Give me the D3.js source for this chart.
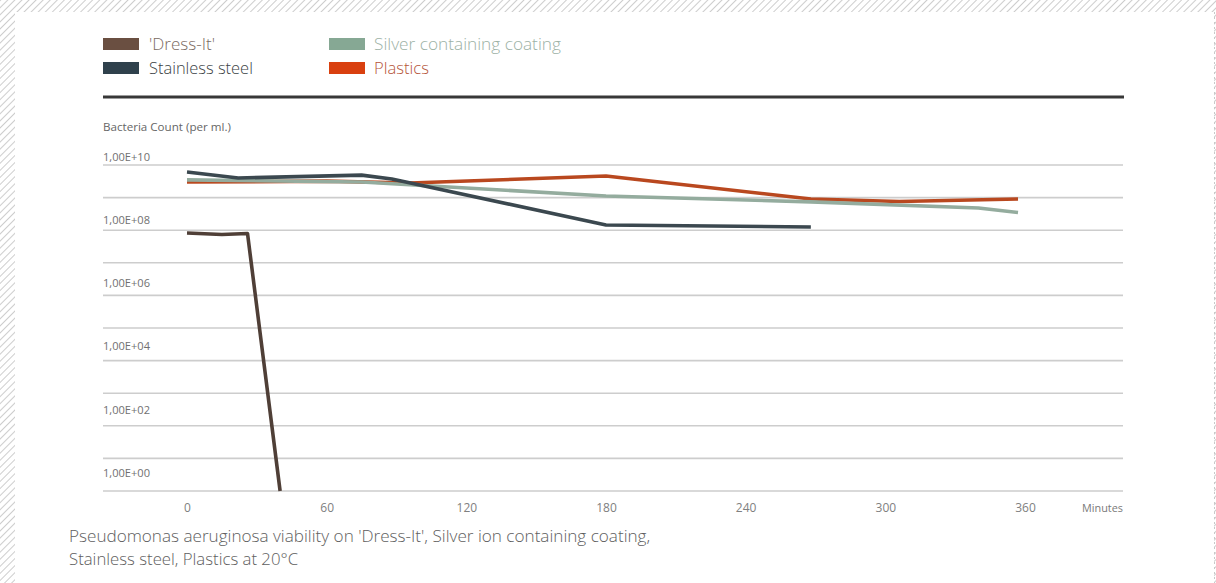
<!DOCTYPE html>
<html>
<head>
<meta charset="utf-8">
<script src="https://cdn.jsdelivr.net/npm/d3@7"></script>
<style>
  html, body { margin: 0; padding: 0; background: #fff; }
  svg { display: block; }
  text { font-family: "Open Sans", Roboto, sans-serif; font-weight: 300; }
  text.narrow { font-family: "Liberation Sans Narrow", "Open Sans", sans-serif; font-weight: 400; }
</style>
</head>
<body>
<svg id="chart" width="1216" height="583"></svg>
<script>
// ---- data (minutes, bacteria count per ml) ----
const seriesNames = ["'Dress-It'", "Stainless steel", "Silver containing coating", "Plastics"];

const dressItTimes  = [0, 15, 26, 40];
const dressItValues = [8.2e7, 7.4e7, 7.9e7, 1];

const steelTimes  = [0, 22, 75, 88, 180, 268];
const steelValues = [6.1e9, 4.0e9, 4.9e9, 3.7e9, 1.45e8, 1.26e8];

const silverTimes  = [0, 75, 180, 268, 340, 357];
const silverValues = [3.5e9, 3.0e9, 1.12e9, 7.4e8, 4.8e8, 3.5e8];

const plasticsTimes  = [0, 60, 96, 180, 268, 306, 357];
const plasticsValues = [3.0e9, 3.2e9, 2.8e9, 4.6e9, 9.1e8, 7.6e8, 9.1e8];

const xTickValues = [0, 60, 120, 180, 240, 300, 360];
const yTickValues = [1e10, 1e9, 1e8, 1e7, 1e6, 1e5, 1e4, 1e3, 1e2, 1e1, 1e0];
const yLabelValues = [1e10, 1e8, 1e6, 1e4, 1e2, 1e0];
const yLabelTexts  = ["1,00E+10", "1,00E+08", "1,00E+06", "1,00E+04", "1,00E+02", "1,00E+00"];

const lineColors   = ["#4f3f37", "#3b484f", "#94ac9e", "#b9481f"];
const swatchColors = ["#6a4f41", "#2f414c", "#86a894", "#d9400f"];
const legendTextColors = ["#7a6a62", "#3a3f44", "#9cb1a5", "#b5553a"];

// ---- helpers ----
function fitWidth(sel, target) {
  sel.each(function () {
    const fs = parseFloat(d3.select(this).attr("font-size"));
    const len = this.getComputedTextLength();
    if (len > 0) d3.select(this).attr("font-size", (fs * target / len).toFixed(2));
  });
}

// ---- drawing ----
const svg = d3.select("#chart");
const W = 1216, H = 583;

// hatched frame
const defs = svg.append("defs");
const pat = defs.append("pattern")
  .attr("id", "hatch").attr("patternUnits", "userSpaceOnUse")
  .attr("width", 5).attr("height", 5)
  .attr("patternTransform", "rotate(45)");
pat.append("rect").attr("width", 5).attr("height", 5).attr("fill", "#fff");
pat.append("line").attr("x1", 0).attr("y1", 0).attr("x2", 0).attr("y2", 5)
  .attr("stroke", "#bdbdbd").attr("stroke-width", 1.5);

svg.append("rect").attr("width", W).attr("height", H).attr("fill", "url(#hatch)");
svg.append("rect").attr("x", 15).attr("y", 12).attr("width", 1199).attr("height", H - 12).attr("fill", "#fff");
svg.append("line").attr("x1", 1214.5).attr("x2", 1214.5).attr("y1", 12).attr("y2", H)
  .attr("stroke", "#c8c8c8").attr("stroke-dasharray", "2,3");

// scales
const x = d3.scaleLinear().domain([0, 360]).range([187, 1025]);
const y = d3.scaleLog().domain([1, 1e10]).range([491, 165]);
const yLabel = d3.scaleLog().domain([1, 1e10]).range([473, 157]);

const gridLeft = 103, gridRight = 1123;

// legend
const legendX = [103, 329];
const legendY = [44, 68];
const legendWidths = [66, 104, 187, 55];
seriesNames.forEach((name, i) => {
  const col = i === 0 || i === 1 ? 0 : 1;
  const row = i === 0 || i === 2 ? 0 : 1;
  const g = svg.append("g").attr("transform", `translate(${legendX[col]},${legendY[row]})`);
  g.append("rect").attr("x", 0).attr("y", -6).attr("width", 36).attr("height", 12)
    .attr("fill", swatchColors[i]);
  const t = g.append("text").attr("x", i < 2 ? 46 : 45).attr("y", 0).attr("dy", "0.35em")
    .attr("font-size", 16).attr("fill", legendTextColors[i]).text(name);
  fitWidth(t, legendWidths[i]);
});

// top rule
svg.append("line").attr("x1", gridLeft).attr("x2", gridRight + 1).attr("y1", 97).attr("y2", 97)
  .attr("stroke", "#383838").attr("stroke-width", 3);

// axis title
const at = svg.append("text").attr("class", "narrow").attr("x", 103).attr("y", 127).attr("dy", "0.35em")
  .attr("font-size", 11).attr("fill", "#666").text("Bacteria Count (per ml.)");
fitWidth(at, 128);

// gridlines
svg.append("g").selectAll("line").data(yTickValues).join("line")
  .attr("x1", gridLeft).attr("x2", gridRight)
  .attr("y1", d => y(d)).attr("y2", d => y(d))
  .attr("stroke", "#cdcdcd").attr("stroke-width", 1.6);

// y labels
const yl = svg.append("g").selectAll("text").data(yLabelValues).join("text")
  .attr("class", "narrow")
  .attr("x", 103).attr("y", d => yLabel(d)).attr("dy", "0.35em")
  .attr("font-size", 11).attr("fill", "#707070")
  .text((d, i) => yLabelTexts[i]);
fitWidth(yl, 47);

// x axis labels via d3 axis
const xAxis = d3.axisBottom(x).tickValues(xTickValues).tickSize(0).tickPadding(0);
const xg = svg.append("g").attr("transform", "translate(0,508)").call(xAxis);
xg.select(".domain").remove();
xg.selectAll("text").attr("class", "narrow").attr("font-size", 12).attr("fill", "#808080")
  .attr("font-family", null)
  .attr("y", 0).attr("dy", "0.35em");
const mt = svg.append("text").attr("class", "narrow").attr("x", gridRight).attr("y", 508).attr("dy", "0.35em")
  .attr("text-anchor", "end").attr("font-size", 11).attr("fill", "#7a7a7a").text("Minutes");
fitWidth(mt, 41);

// lines
const line = d3.line().x(d => x(d[0])).y(d => y(d[1]));
const seriesData = [
  d3.zip(plasticsTimes, plasticsValues),
  d3.zip(silverTimes, silverValues),
  d3.zip(steelTimes, steelValues),
  d3.zip(dressItTimes, dressItValues)
];
const seriesColorIdx = [3, 2, 1, 0];
svg.append("g").selectAll("path").data(seriesData).join("path")
  .attr("d", line).attr("fill", "none")
  .attr("stroke", (d, i) => lineColors[seriesColorIdx[i]])
  .attr("stroke-width", 3.6).attr("stroke-linejoin", "round");

// caption
const c1 = svg.append("text").attr("x", 69).attr("y", 536).attr("dy", "0.35em")
  .attr("font-size", 15.5).attr("fill", "#5e5e5e")
  .text("Pseudomonas aeruginosa viability on 'Dress-It', Silver ion containing coating,");
fitWidth(c1, 582);
const c2 = svg.append("text").attr("x", 69).attr("y", 559).attr("dy", "0.35em")
  .attr("font-size", 15.5).attr("fill", "#5e5e5e")
  .text("Stainless steel, Plastics at 20°C");
fitWidth(c2, 229);
</script>
</body>
</html>
